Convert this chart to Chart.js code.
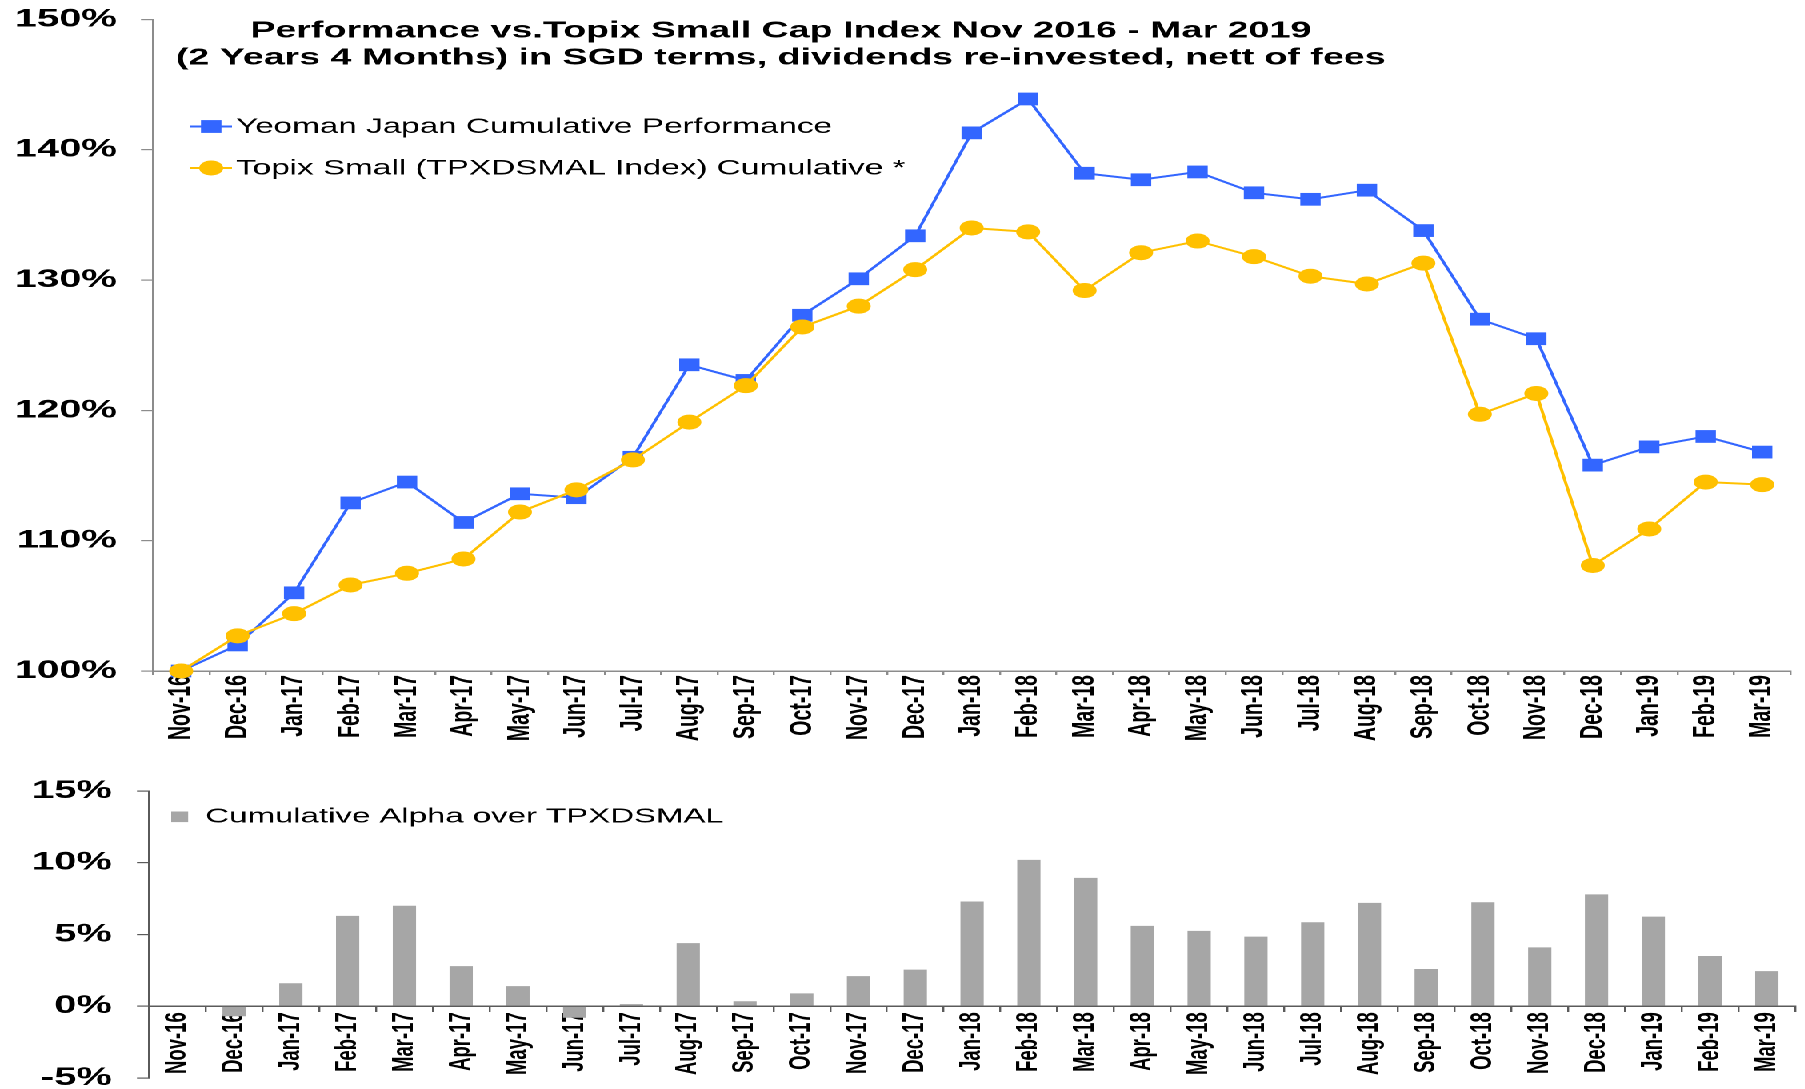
<!DOCTYPE html>
<html>
<head>
<meta charset="utf-8">
<script src="https://cdn.jsdelivr.net/npm/chart.js@4.4.1/dist/chart.umd.min.js"></script>
<style>
  html, body { margin: 0; padding: 0; background: #fff; overflow: hidden; }
  /* the reference is stretched sideways, so draw narrow and widen it */
  #stage { position: absolute; left: 0; top: 0; width: 1128px; height: 1100px;
           transform: scaleX(1.6); transform-origin: 0 0; }
  #perf { position: absolute; left: 0; top: 0; }
  #alpha { position: absolute; left: 0; top: 760px; }
</style>
</head>
<body>
<div id="stage">
  <canvas id="perf" width="1128" height="741"></canvas>
  <canvas id="alpha" width="1128" height="340"></canvas>
</div>
<script>
var months = ['Nov-16','Dec-16','Jan-17','Feb-17','Mar-17','Apr-17','May-17','Jun-17','Jul-17',
  'Aug-17','Sep-17','Oct-17','Nov-17','Dec-17','Jan-18','Feb-18','Mar-18','Apr-18','May-18',
  'Jun-18','Jul-18','Aug-18','Sep-18','Oct-18','Nov-18','Dec-18','Jan-19','Feb-19','Mar-19']

var yeoman = [100.0, 102.0, 106.0, 112.9, 114.5, 111.4, 113.6, 113.3, 116.4, 123.5, 122.3, 127.3,
  130.1, 133.4, 141.3, 143.9, 138.2, 137.7, 138.3, 136.7, 136.2, 136.9, 133.8, 127.0, 125.5,
  115.8, 117.2, 118.0, 116.8]

var topix = [100.0, 102.7, 104.4, 106.6, 107.5, 108.6, 112.2, 113.9, 116.2, 119.1, 121.9, 126.4,
  128.0, 130.8, 134.0, 133.7, 129.2, 132.1, 133.0, 131.8, 130.3, 129.7, 131.3, 119.7, 121.3,
  108.1, 110.9, 114.5, 114.3]

var alpha = [0, -0.7, 1.6, 6.3, 7.0, 2.8, 1.4, -0.8, 0.15, 4.4, 0.35, 0.9, 2.1, 2.55, 7.3, 10.2,
  8.95, 5.6, 5.25, 4.85, 5.85, 7.2, 2.6, 7.25, 4.1, 7.8, 6.25, 3.5, 2.45]

var perfRange = [100, 150, 10]
var alphaRange = [-5, 15, 5]

var titleLines = ['Performance vs.Topix Small Cap Index Nov 2016 - Mar 2019',
  '(2 Years 4 Months) in SGD terms, dividends re-invested, nett of fees']
var perfLabels = ['Yeoman Japan Cumulative Performance', 'Topix Small (TPXDSMAL Index) Cumulative *']
var alphaLabel = 'Cumulative Alpha over TPXDSMAL'

var BLUE = '#3366ff'
var GOLD = '#ffc000'
var GREY = '#a6a6a6'
var FONT = '"Liberation Sans", Arial, sans-serif'

Chart.defaults.font.family = FONT
Chart.defaults.color = '#000'

function pct(v) { return v + '%' }

// fixed axis width, and keep tick padding from pushing the plot in
function fitY(w) {
  return function(s) {
    s.width = w
    s.paddingTop = 0
    s.paddingBottom = 0
  }
}

// title and in-plot legend of the top chart
var perfOverlay = {
  id: 'perfOverlay',
  afterDraw: function(chart) {
    var ctx = chart.ctx
    ctx.save()
    ctx.fillStyle = '#000'
    ctx.textAlign = 'center'
    ctx.textBaseline = 'middle'
    ctx.font = 'bold 23.5px ' + FONT
    ctx.fillText(titleLines[0], 488, 31)
    ctx.fillText(titleLines[1], 488, 58)

    var rows = [126.5, 168]
    chart.data.datasets.forEach(function(ds, i) {
      var y = rows[i]
      ctx.strokeStyle = ds.borderColor
      ctx.lineWidth = 2
      ctx.beginPath()
      ctx.moveTo(119, y)
      ctx.lineTo(145, y)
      ctx.stroke()
      ctx.fillStyle = ds.backgroundColor
      if (ds.pointStyle == 'rect') {
        ctx.fillRect(132 - 6.4, y - 6.4, 12.8, 12.8)
      } else {
        ctx.beginPath()
        ctx.arc(132, y, 7.5, 0, Math.PI * 2)
        ctx.fill()
      }
      ctx.fillStyle = '#000'
      ctx.textAlign = 'left'
      ctx.font = '20.8px ' + FONT
      ctx.fillText(ds.label, 147.5, y + 1)
    })
    ctx.restore()
  }
}

var alphaOverlay = {
  id: 'alphaOverlay',
  afterDraw: function(chart) {
    var ctx = chart.ctx
    var ds = chart.data.datasets[0]
    ctx.save()
    ctx.fillStyle = ds.backgroundColor
    ctx.fillRect(107, 51.5, 10.6, 10.6)
    ctx.fillStyle = '#000'
    ctx.textAlign = 'left'
    ctx.textBaseline = 'middle'
    ctx.font = '20.6px ' + FONT
    ctx.fillText(ds.label, 128.4, 57)
    ctx.restore()
  }
}

new Chart(document.getElementById('perf'), {
  type: 'line',
  data: {
    labels: months,
    datasets: [
      { label: perfLabels[0], data: yeoman, order: 2, clip: false,
        borderColor: BLUE, backgroundColor: BLUE, borderWidth: 2,
        pointStyle: 'rect', pointRadius: 9, pointHoverRadius: 9, pointBorderWidth: 0 },
      { label: perfLabels[1], data: topix, order: 1, clip: false,
        borderColor: GOLD, backgroundColor: GOLD, borderWidth: 2,
        pointStyle: 'circle', pointRadius: 7.5, pointHoverRadius: 7.5, pointBorderWidth: 0 }
    ]
  },
  options: {
    responsive: false,
    animation: false,
    devicePixelRatio: 2,
    layout: { padding: { top: 19.5, right: 6, bottom: 0, left: 0 } },
    plugins: { legend: { display: false }, tooltip: { enabled: false } },
    scales: {
      x: {
        offset: true,
        grid: { drawOnChartArea: false, offset: true, tickLength: 4, color: '#8c8c8c', lineWidth: 1.2 },
        border: { color: '#8c8c8c', width: 1.5 },
        ticks: { minRotation: 90, maxRotation: 90, autoSkip: false, padding: 0,
                 font: { size: 19.5, weight: 'bold' } },
        afterFit: function(s) { s.height = 70 }
      },
      y: {
        min: perfRange[0], max: perfRange[1],
        grid: { drawOnChartArea: false, tickLength: 7.5, color: '#8c8c8c', lineWidth: 1.2 },
        border: { color: '#8c8c8c', width: 1.5 },
        ticks: { stepSize: perfRange[2], padding: 15, callback: pct,
                 font: { size: 25, weight: 'bold' } },
        afterFit: fitY(95.6)
      }
    }
  },
  plugins: [perfOverlay]
})

new Chart(document.getElementById('alpha'), {
  type: 'bar',
  data: {
    labels: months,
    datasets: [
      { label: alphaLabel, data: alpha, backgroundColor: GREY,
        barPercentage: 0.41, categoryPercentage: 1 }
    ]
  },
  options: {
    responsive: false,
    animation: false,
    devicePixelRatio: 2,
    layout: { padding: { top: 31, right: 6, bottom: 22, left: 0 } },
    plugins: { legend: { display: false }, tooltip: { enabled: false } },
    scales: {
      x: {
        position: { y: 0 },
        z: 1,
        grid: { drawOnChartArea: false, offset: true, tickLength: 5, color: '#5a5a5a', lineWidth: 1.2 },
        border: { color: '#5a5a5a', width: 1.5 },
        ticks: { minRotation: 90, maxRotation: 90, autoSkip: false, padding: 1,
                 font: { size: 18.5, weight: 'bold' } }
      },
      y: {
        min: alphaRange[0], max: alphaRange[1],
        grid: { drawOnChartArea: false, tickLength: 7.5, color: '#5a5a5a', lineWidth: 1.2 },
        border: { color: '#5a5a5a', width: 1.5 },
        ticks: { stepSize: alphaRange[2], padding: 15.6, callback: pct,
                 font: { size: 25, weight: 'bold' } },
        afterFit: fitY(93.1)
      }
    }
  },
  plugins: [alphaOverlay]
})
</script>
</body>
</html>
